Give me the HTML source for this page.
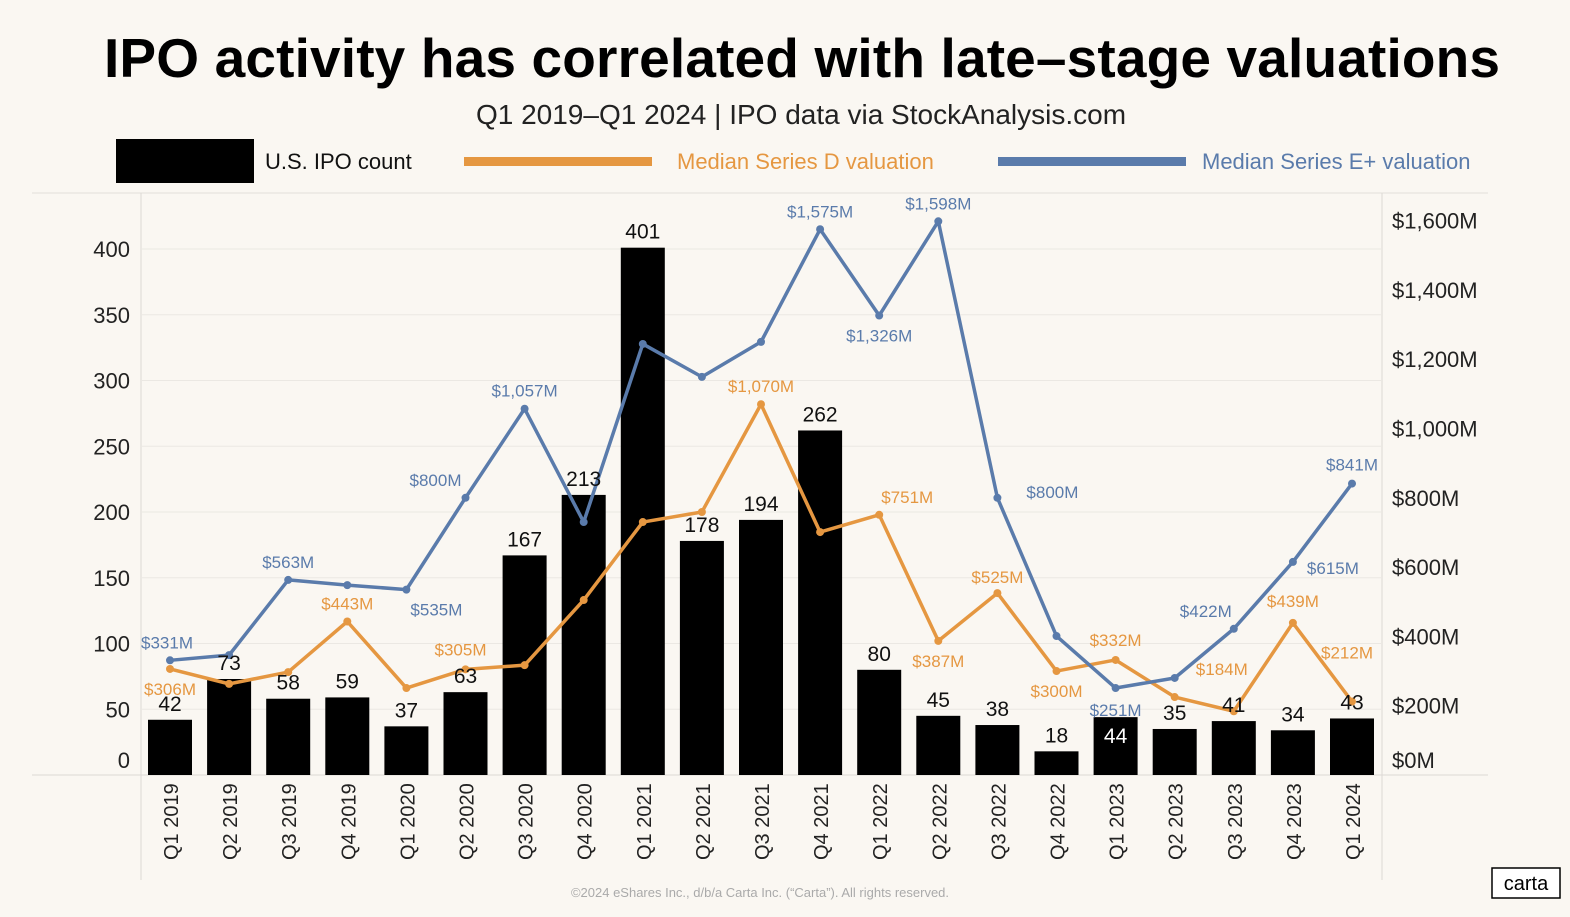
<!DOCTYPE html>
<html><head><meta charset="utf-8"><style>
body{margin:0;background:#faf7f2;width:1570px;height:912px;overflow:hidden;font-family:"Liberation Sans",sans-serif}
</style></head><body>
<svg id="chart" width="1570" height="912" viewBox="0 0 1570 912" xmlns="http://www.w3.org/2000/svg" font-family="Liberation Sans, sans-serif">
<rect width="1570" height="912" fill="#faf7f2"/>
<text x="802" y="77" text-anchor="middle" font-size="55" font-weight="bold" fill="#000" textLength="1396">IPO activity has correlated with late–stage valuations</text>
<text x="801" y="124" text-anchor="middle" font-size="28" fill="#222">Q1 2019–Q1 2024 | IPO data via StockAnalysis.com</text>
<g>
<rect x="116" y="139" width="138" height="44" fill="#000"/>
<text x="265" y="169" font-size="22" fill="#111">U.S. IPO count</text>
<rect x="464" y="157" width="188" height="9" fill="#e59741"/>
<text x="677" y="169" font-size="22" fill="#e59741">Median Series D valuation</text>
<rect x="998" y="157" width="188" height="9" fill="#5a7bab"/>
<text x="1202" y="169" font-size="22" fill="#5a7bab">Median Series E+ valuation</text>
</g>
<g id="grid"></g><g id="bars"></g><g id="lines"></g><g id="labels"></g>
<text x="760" y="897" text-anchor="middle" font-size="13" fill="#aaa">©2024 eShares Inc., d/b/a Carta Inc. (“Carta”). All rights reserved.</text>
<rect x="1492" y="868" width="68" height="30" fill="#fff" stroke="#000" stroke-width="1.5"/>
<text x="1526" y="890" text-anchor="middle" font-size="20" fill="#000">carta</text>
</svg>
<script>
const categories=["Q1 2019","Q2 2019","Q3 2019","Q4 2019","Q1 2020","Q2 2020","Q3 2020","Q4 2020","Q1 2021","Q2 2021","Q3 2021","Q4 2021","Q1 2022","Q2 2022","Q3 2022","Q4 2022","Q1 2023","Q2 2023","Q3 2023","Q4 2023","Q1 2024"];
const ipoCounts=[42,73,58,59,37,63,167,213,401,178,194,262,80,45,38,18,44,35,41,34,43];
const seriesD=[306,263,297,443,251,305,317,505,730,759,1070,701,751,387,525,300,332,225,184,439,212];
const seriesE=[331,346,563,548,535,800,1057,730,1244,1149,1250,1575,1326,1598,800,401,251,280,422,615,841];
const seriesDLabels=["$306M",null,null,"$443M",null,"$305M",null,null,null,null,"$1,070M",null,"$751M","$387M","$525M","$300M","$332M",null,"$184M","$439M","$212M"];
const seriesELabels=["$331M",null,"$563M",null,"$535M","$800M","$1,057M",null,null,null,null,"$1,575M","$1,326M","$1,598M","$800M",null,"$251M",null,"$422M","$615M","$841M"];
const leftTicks=[0,50,100,150,200,250,300,350,400];
const rightTicks=[0,200,400,600,800,1000,1200,1400,1600];
const rightTickLabels=["$0M","$200M","$400M","$600M","$800M","$1,000M","$1,200M","$1,400M","$1,600M"];
/* label placement (styling only): [dx, dy] relative to point */
const dOff={0:[0,22],3:[0,-12],5:[-5,-14],10:[0,-12],12:[28,-12],13:[0,22],14:[0,-10],15:[0,22],16:[0,-14],18:[-12,-36],19:[0,-16],20:[-5,-43]};
const eOff={0:[-3,-12],2:[0,-12],4:[30,22],5:[-30,-12],6:[0,-12],11:[0,-12],12:[0,22],13:[0,-12],14:[55,0],16:[0,24],18:[-28,-12],19:[40,8],20:[0,-13]};
const NS="http://www.w3.org/2000/svg";
const base=775;
const x=i=>170+i*59.1;
const yL=v=>base-v*1.315;
const yR=v=>base-v*0.3465;
function mk(p,tag,attrs,txt){const e=document.createElementNS(NS,tag);for(const k in attrs)e.setAttribute(k,attrs[k]);if(txt!=null)e.textContent=txt;p.appendChild(e);return e;}
const G=document.getElementById('grid'),B=document.getElementById('bars'),L=document.getElementById('lines'),T=document.getElementById('labels');
let e;
e=mk(G,'line',{x1:32,x2:1488,y1:193,y2:193,stroke:'#e2dfda'});


e=mk(G,'line',{x1:141,x2:141,y1:193,y2:880,stroke:'#dcd9d4'});


e=mk(G,'line',{x1:1382,x2:1382,y1:193,y2:880,stroke:'#dcd9d4'});


leftTicks.forEach(t=>{
 if(t>0){e=mk(G,'line',{x1:141,x2:1382,y1:yL(t),y2:yL(t),stroke:'#ebe8e3'});
 
 }
 e=mk(G,'text',{x:130,y:(t===0?760:yL(t))+8,'text-anchor':'end','font-size':22,fill:'#222'},t);
 
 
});
e=mk(G,'line',{x1:32,x2:1488,y1:base,y2:base,stroke:'#dcd9d4'});


rightTicks.forEach((t,i)=>{
 e=mk(G,'text',{x:1392,y:(t===0?760:yR(t))+8,'font-size':22,fill:'#222'},rightTickLabels[i]);
 
 
});
categories.forEach((c,i)=>{
 e=mk(B,'rect',{x:x(i)-22,y:yL(ipoCounts[i]),width:44,height:ipoCounts[i]*1.315,fill:'#000'});
 
 
 const inside=ipoCounts[i]===44;
 e=mk(T,'text',{x:x(i),y:inside?yL(ipoCounts[i])+26:yL(ipoCounts[i])-9,'text-anchor':'middle','font-size':21,fill:inside?'#fff':'#111'},ipoCounts[i]);
 
 
 e=mk(T,'text',{transform:`translate(${x(i)+8},860) rotate(-90)`,'font-size':20,fill:'#222'},c);
 
 
});
function line(vals,col,name,lbls,off){
 e=mk(L,'polyline',{points:vals.map((v,i)=>x(i)+','+yR(v)).join(' '),fill:'none',stroke:col,'stroke-width':3.5,'stroke-linejoin':'round'});
 
 
 vals.forEach((v,i)=>{
  e=mk(L,'circle',{cx:x(i),cy:yR(v),r:4,fill:col});
  
  
  if(lbls[i]){
   const o=off[i]||[0,-12];
   e=mk(T,'text',{x:x(i)+o[0],y:yR(v)+o[1]+(o[1]>0?4:0),'text-anchor':'middle','font-size':17,fill:col},lbls[i]);
   
   
  }
 });
}
line(seriesD,'#e59741','series-d',seriesDLabels,dOff);
line(seriesE,'#5a7bab','series-e',seriesELabels,eOff);
</script>
</body></html>
